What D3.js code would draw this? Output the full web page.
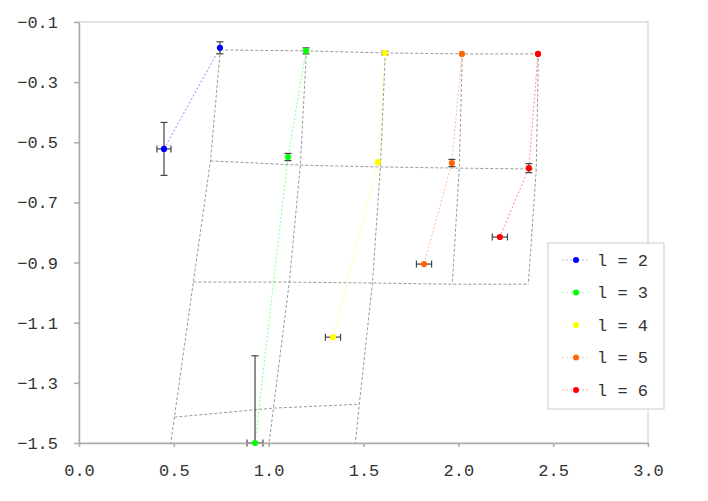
<!DOCTYPE html>
<html lang="en">
<head>
<meta charset="UTF-8">
<script src="https://d3js.org/d3.v7.min.js"></script>
<style>
  body { margin: 0; background: #fff; }
  svg { font-family: "Liberation Mono", "DejaVu Sans Mono", monospace; }
  .axis text { font-size: 17px; fill: #333; }
  .axis path, .axis line { stroke: #aaa; stroke-width: 1.5px; }
  .grid-line { fill: none; stroke: #999; stroke-width: 1; stroke-dasharray: 3,2; }
  .series-line { fill: none; stroke-width: 1; stroke-dasharray: 2,2; opacity: 0.45; }
  .err line { stroke: #444; stroke-width: 1.2; }
</style>
</head>
<body>
<script>
// series labels and colours
var labels = ["l = 2", "l = 3", "l = 4", "l = 5", "l = 6"];
var colors = ["#0000ff", "#00ff00", "#ffff00", "#ff6600", "#ff0000"];

// points per series: x, y, x error, y error
var seriesL2 = [[0.448, -0.522, 0.037, 0.088], [0.743, -0.186, 0, 0.02]];
var seriesL3 = [[1.197, -0.196, 0, 0.01], [1.102, -0.549, 0, 0.012], [0.928, -1.5, 0.042, 0.29]];
var seriesL4 = [[1.613, -0.203, 0, 0.006], [1.576, -0.566, 0, 0], [1.339, -1.148, 0.04, 0]];
var seriesL5 = [[2.019, -0.206, 0, 0], [1.966, -0.569, 0, 0.012], [1.819, -0.905, 0.04, 0]];
var seriesL6 = [[2.42, -0.206, 0, 0], [2.372, -0.586, 0, 0.015], [2.219, -0.815, 0.04, 0]];
var series = [seriesL2, seriesL3, seriesL4, seriesL5, seriesL6];

// background lattice (dashed grey), one row per array
var gridRow1 = [[0.745, -0.193], [1.199, -0.196], [1.615, -0.203], [2.021, -0.206], [2.422, -0.206]];
var gridRow2 = [[0.693, -0.562], [1.167, -0.576], [1.589, -0.582], [2.005, -0.586], [2.411, -0.589]];
var gridRow3 = [[0.603, -0.965], [1.109, -0.965], [1.547, -0.968], [1.968, -0.972], [2.369, -0.972]];
var gridRow4 = [[0.503, -1.414], [1.025, -1.384], [1.478, -1.371]];
var gridRow5 = [[0.461, -1.6], [0.983, -1.6], [1.441, -1.6]];
var gridRows = [gridRow1, gridRow2, gridRow3, gridRow4];
var gridAll = [gridRow1, gridRow2, gridRow3, gridRow4, gridRow5];

// tick values
var xTicks = [0, 0.5, 1, 1.5, 2, 2.5, 3];
var yTicks = [-0.1, -0.3, -0.5, -0.7, -0.9, -1.1, -1.3, -1.5];

var W = 708, H = 501;
var margin = {left: 79, right: 60, top: 22, bottom: 58};
var width = W - margin.left - margin.right,
    height = H - margin.top - margin.bottom;
var monoFont = "'Liberation Mono', 'DejaVu Sans Mono', monospace";

var svg = d3.select("body").append("svg")
  .attr("width", W).attr("height", H);

var g = svg.append("g")
  .attr("transform", "translate(" + margin.left + "," + margin.top + ")");

var x = d3.scaleLinear().domain([0, 3]).range([0, width]);
var y = d3.scaleLinear().domain([-1.5, -0.1]).range([height, 0]);

g.append("clipPath").attr("id", "clip")
  .append("rect").attr("width", width).attr("height", height);

// frame
g.append("rect")
  .attr("width", width).attr("height", height)
  .style("fill", "none").style("stroke", "#ccc");

var line = d3.line()
  .x(function(d) { return x(d[0]); })
  .y(function(d) { return y(d[1]); });

var plot = g.append("g").attr("clip-path", "url(#clip)");

// horizontal lattice lines
gridRows.forEach(function(row) {
  plot.append("path").attr("class", "grid-line").attr("d", line(row));
});
// columns through the rows
var nCols = d3.max(gridAll, function(r) { return r.length; });
for (var c = 0; c < nCols; c++) {
  var col = gridAll.filter(function(r) { return r.length > c; })
    .map(function(r) { return r[c]; });
  plot.append("path").attr("class", "grid-line").attr("d", line(col));
}

// series dotted lines
series.forEach(function(s, i) {
  plot.append("path").attr("class", "series-line")
    .style("stroke", colors[i]).attr("d", line(s));
});

// error bars
var cap = 3.5;
var err = g.append("g").attr("class", "err");
series.forEach(function(s) {
  s.forEach(function(d) {
    var px = x(d[0]), py = y(d[1]);
    if (d[3] > 0) {
      var y1 = y(d[1] + d[3]), y2 = Math.min(height, y(d[1] - d[3]));
      err.append("line").attr("x1", px).attr("x2", px).attr("y1", y1).attr("y2", y2);
      err.append("line").attr("x1", px - cap).attr("x2", px + cap).attr("y1", y1).attr("y2", y1);
      if (y(d[1] - d[3]) <= height)
        err.append("line").attr("x1", px - cap).attr("x2", px + cap).attr("y1", y2).attr("y2", y2);
    }
    if (d[2] > 0) {
      var x1 = x(d[0] - d[2]), x2 = x(d[0] + d[2]);
      err.append("line").attr("x1", x1).attr("x2", x2).attr("y1", py).attr("y2", py);
      err.append("line").attr("x1", x1).attr("x2", x1).attr("y1", py - cap).attr("y2", py + cap);
      err.append("line").attr("x1", x2).attr("x2", x2).attr("y1", py - cap).attr("y2", py + cap);
    }
  });
});

// axes
var xAxisG = g.append("g").attr("class", "axis")
  .attr("transform", "translate(0," + height + ")")
  .call(d3.axisBottom(x).tickValues(xTicks).tickFormat(d3.format(".1f"))
    .tickSize(4).tickSizeOuter(0).tickPadding(17));

var yAxisG = g.append("g").attr("class", "axis")
  .call(d3.axisLeft(y).tickValues(yTicks).tickFormat(d3.format(".1f"))
    .tickSize(5).tickSizeOuter(0).tickPadding(16));

xAxisG.attr("font-family", monoFont).attr("font-size", 17);
yAxisG.attr("font-family", monoFont).attr("font-size", 17);

// markers
series.forEach(function(s, i) {
  g.selectAll(null).data(s).enter().append("circle")
    .attr("cx", function(d) { return x(d[0]); })
    .attr("cy", function(d) { return y(d[1]); })
    .attr("r", 3.1)
    .style("fill", colors[i]);
});

// legend
var legend = svg.append("g").attr("transform", "translate(548,243)");
legend.append("rect").attr("width", 116).attr("height", 166)
  .style("fill", "#fff").style("stroke", "#ccc");
labels.forEach(function(lab, i) {
  var ly = 17 + i * 32.5;
  legend.append("line").attr("x1", 14).attr("x2", 42).attr("y1", ly).attr("y2", ly)
    .style("stroke", colors[i]).style("stroke-dasharray", "2,2").style("opacity", 0.3);
  legend.append("circle").attr("cx", 28).attr("cy", ly).attr("r", 3)
    .style("fill", colors[i]);
  legend.append("text").attr("x", 49).attr("y", ly).attr("dy", "0.35em")
    .style("font-size", "17px").style("fill", "#333")
    .style("white-space", "pre").text(lab);
});
</script>
</body>
</html>
